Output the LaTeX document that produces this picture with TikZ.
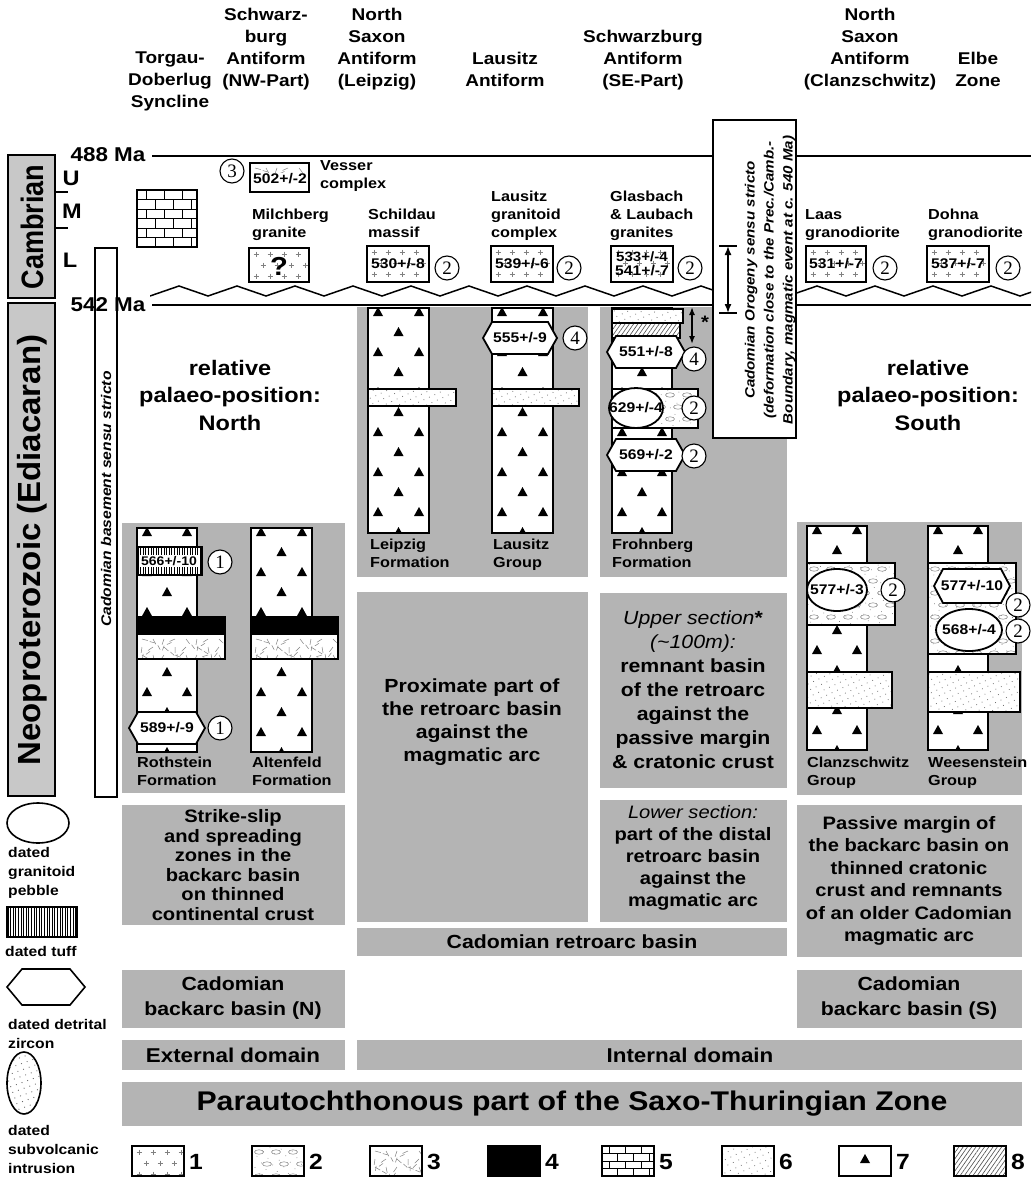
\documentclass[tikz,border=0pt]{standalone}
\usepackage{graphicx}
\usepackage{fontspec}
\setmainfont{Liberation Sans}[FakeStretch=1.12]
\newfontfamily\numfont{Liberation Serif}
\usetikzlibrary{patterns,patterns.meta,arrows.meta}
\definecolor{boxgray}{RGB}{180,180,180}
\definecolor{pgray}{RGB}{200,200,200}
\newcommand{\fsz}[2]{\fontsize{#1}{#2}\selectfont}
\tikzset{
  colline/.style={line width=2.2pt},
  graybg/.style={fill=boxgray, draw=none},
  hdr/.style={font=\bfseries\fsz{17}{22}, align=center, anchor=north, inner sep=0pt},
  lab/.style={font=\bfseries\fsz{14.5}{18}, align=left, anchor=north west, inner sep=0pt},
  datef/.style={font=\bfseries\fsz{14}{14}, inner sep=0pt, align=center},
  numc/.style={circle, draw, line width=1.1pt, fill=white, minimum size=24pt, inner sep=0pt, font=\numfont\fsz{19}{19}},
  shp/.style={line width=1.8pt, fill=white},
  patgray/.style={black!50, line width=0.5pt},
  legtxt/.style={font=\bfseries\fsz{14}{19}, align=left, anchor=north west, inner sep=0pt},
  legnum/.style={font=\bfseries\fsz{22}{22}, inner sep=0pt},
  legbox/.style={line width=1.6pt},
  boxtxt/.style={font=\bfseries\fsz{19}{23}, align=center, inner sep=0pt},
}
\newcommand{\tri}[2]{\fill ({#1-5},{#2+4}) -- ({#1+5},{#2+4}) -- ({#1},{#2-5}) -- cycle;}
\newcommand{\tricol}[4]{%
  \fill[white] (#1,#2) rectangle (#3,#4);
  \begin{scope}
    \clip (#1,#2) rectangle (#3,#4);
    \foreach \k in {0,...,12}{%
      \pgfmathsetmacro{\yy}{#2+4+\k*20}%
      \pgfmathtruncatemacro{\myodd}{mod(\k,2)}%
      \ifnum\myodd=0 \tri{#1+10}{\yy}\tri{#3-10}{\yy}\else\tri{(#1+#3)/2}{\yy}\fi
    }
  \end{scope}
  \draw[colline] (#1,#2) rectangle (#3,#4);}
\newcommand{\sandbed}[4]{%
  \fill[white] (#1,#2) rectangle (#3,#4);
  \fill[pattern={Dots[distance=6pt,radius=0.55pt,angle=25]}, pattern color=black!55] (#1,#2) rectangle (#3,#4);
  \draw[colline] (#1,#2) rectangle (#3,#4);}
\newcommand{\pebblefill}[4]{%
  \begin{scope}
    \clip (#1,#2) rectangle (#3,#4);
    \fill[pattern={Dots[distance=8pt,radius=0.5pt,angle=35]}, pattern color=black!50] (#1,#2) rectangle (#3,#4);
    \foreach \i in {0,...,6}{\foreach \j in {0,...,7}{%
      \draw[patgray] ({#1+7+\i*17+mod(\j,2)*8},{#2+6+\j*12}) ellipse (4.5 and 2.2);}}
  \end{scope}}
\newcommand{\pebblebed}[4]{%
  \fill[white] (#1,#2) rectangle (#3,#4);
  \pebblefill{#1}{#2}{#3}{#4}
  \draw[colline] (#1,#2) rectangle (#3,#4);}
\newcommand{\hatchbed}[4]{%
  \fill[white] (#1,#2) rectangle (#3,#4);
  \fill[pattern={Lines[angle=55,distance=3.5pt,line width=0.6pt]}, pattern color=black!70] (#1,#2) rectangle (#3,#4);
  \draw[colline] (#1,#2) rectangle (#3,#4);}
\newcommand{\tuffbed}[4]{%
  \fill[white] (#1,#2) rectangle (#3,#4);
  \fill[pattern={Lines[angle=90,distance=2.6pt,line width=0.6pt]}] (#1,#2) rectangle (#3,#4);
  \draw[line width=1.8pt] (#1,#2) rectangle (#3,#4);}
\newcommand{\blackbed}[4]{%
  \fill[black] (#1,#2) rectangle (#3,#4);
  \draw[colline] (#1,#2) rectangle (#3,#4);}
\newcommand{\volcfill}[4]{%
  \begin{scope}
    \clip (#1,#2) rectangle (#3,#4);
    \foreach \i in {0,...,8}{\foreach \j in {0,...,3}{%
      \pgfmathsetmacro{\ang}{mod(\i*47+\j*83,150)+15}%
      \draw[patgray] ({#1+5+\i*11},{#2+5+\j*8}) -- ++(\ang:6) ++(2,1) -- ++(\ang:5);}}
  \end{scope}}
\newcommand{\volcbed}[4]{%
  \fill[white] (#1,#2) rectangle (#3,#4);
  \volcfill{#1}{#2}{#3}{#4}
  \draw[colline] (#1,#2) rectangle (#3,#4);}
\newcommand{\granfill}[4]{%
  \begin{scope}
    \clip (#1,#2) rectangle (#3,#4);
    \foreach \i in {0,...,7}{\foreach \j in {0,...,4}{%
      \draw[patgray] ({#1+7+\i*14+mod(\j,2)*7-2.5},{#2+6+\j*11}) -- ++(5,0) ({#1+7+\i*14+mod(\j,2)*7},{#2+3.5+\j*11}) -- ++(0,5);}}
  \end{scope}}
\newcommand{\bricks}[5]{%
  \fill[white] (#1,#2) rectangle (#3,#4);
  \begin{scope}
    \clip (#1,#2) rectangle (#3,#4);
    \pgfmathsetmacro{\bh}{(#4-#2)/#5}
    \pgfmathsetmacro{\bw}{(#3-#1)/3.3}
    \foreach \r in {1,...,#5}{%
      \pgfmathsetmacro{\ya}{#2+(\r-1)*\bh}%
      \draw[line width=1pt] (#1,\ya) -- (#3,\ya);
      \foreach \m in {0,...,4}{%
        \pgfmathsetmacro{\xa}{#1+(\m+0.5*mod(\r,2))*\bw}%
        \draw[line width=1pt] (\xa,\ya) -- (\xa,{\ya+\bh});}}
  \end{scope}
  \draw[line width=1.6pt] (#1,#2) rectangle (#3,#4);}
\newcommand{\hexa}[6]{%
  \draw[shp] ({#2-#4},#3) -- ({#2-#4+9},{#3-#5}) -- ({#2+#4-9},{#3-#5}) -- ({#2+#4},#3) -- ({#2+#4-9},{#3+#5}) -- ({#2-#4+9},{#3+#5}) -- cycle;
  \node[datef] (#1) at (#2,#3) {#6};}
\newcommand{\dateell}[6]{%
  \draw[shp] (#2,#3) ellipse (#4 and #5);
  \node[datef] (#1) at (#2,#3) {#6};}
\newcommand{\granbox}[6]{%
  \fill[white] (#2,#3) rectangle (#4,#5);
  \granfill{#2}{#3}{#4}{#5}
  \draw[line width=2pt] (#2,#3) rectangle (#4,#5);
  \node[datef] (#1) at ({(#2+#4)/2},{(#3+#5)/2}) {#6};}

\begin{document}
\begin{tikzpicture}[x=1pt,y=-1pt]
\useasboundingbox (0,0) rectangle (1031,1180);
\fill[white] (0,0) rectangle (1031,1180);

% ---------- column headers
\node[hdr] (h1) at (170,52) {Torgau-\\Doberlug\\Syncline};
\node[hdr] (h2) at (266,8) {Schwarz-\\burg\\Antiform\\(NW-Part)};
\node[hdr] (h3) at (377,8) {North\\Saxon\\Antiform\\(Leipzig)};
\node[hdr] (h4) at (505,52) {Lausitz\\Antiform};
\node[hdr] (h5) at (643,30) {Schwarzburg\\Antiform\\(SE-Part)};
\node[hdr] (h6) at (870,8) {North\\Saxon\\Antiform\\(Clanzschwitz)};
\node[hdr] (h7) at (978,52) {Elbe\\Zone};

% ---------- period column
\draw[line width=1.5pt, fill=pgray] (8,155) rectangle (55,298);
\draw[line width=1.5pt, fill=pgray] (8,303) rectangle (55,796);
\node[rotate=90, font=\bfseries\fsz{31}{31}] (camb) at (32,227) {\scalebox{0.78}[1]{Cambrian}};
\node[rotate=90, font=\bfseries\fsz{32}{32}] (neo) at (32,550) {\scalebox{0.92}[1]{Neoproterozoic (Ediacaran)}};
\draw[line width=1.2pt] (55,192) -- (68,192) (55,228) -- (68,228);
\node[font=\bfseries\fsz{21}{21}] (lU) at (71,178) {U};
\node[font=\bfseries\fsz{21}{21}] (lM) at (72,211) {M};
\node[font=\bfseries\fsz{21}{21}] (lL) at (70,260) {L};
\node[font=\bfseries\fsz{20}{20}] (m488) at (108,155) {488 Ma};
\node[font=\bfseries\fsz{20}{20}] (m542) at (108,305) {542 Ma};
\draw[line width=1.8pt] (152,156) -- (1031,156);
\draw[line width=1.8pt] (152,305) -- (1031,305);
\begin{scope}
  \clip (150,280) rectangle (1031,300);
  \draw[line width=1.5pt] (150,296) \foreach \i in {0,...,15} { -- ({179+\i*58},286) -- ({208+\i*58},296) };
\end{scope}

% Cadomian basement column
\draw[line width=1.5pt] (95,248) rectangle (117,797);
\node[rotate=90, font=\bfseries\itshape\fsz{14}{14}] (cbs) at (106,499) {Cadomian basement sensu stricto};

% ---------- gray backgrounds
\fill[boxgray] (122,523) rectangle (345,793);
\fill[boxgray] (357,307) rectangle (588,577);
\fill[boxgray] (600,307) rectangle (787,577);
\fill[boxgray] (797,522) rectangle (1022,795);

% ---------- Cambrian items
\bricks{137}{190}{197}{247}{6}
\node[numc] (n3) at (232,171) {3};
\fill[white] (250,163) rectangle (309,192);
\volcfill{250}{163}{309}{172}
\draw[line width=2pt] (250,163) rectangle (309,192);
\node[datef] (d502) at (280,179) {502+/-2};
\node[lab] (lves) at (320,160) {Vesser\\complex};
\node[lab] (lmil) at (252,209) {Milchberg\\granite};
\granbox{dmil}{249}{248}{309}{282}{}
\node[font=\bfseries\fsz{26}{26}] (qmark) at (279,266) {?};
\node[lab] (lsch) at (368,209) {Schildau\\massif};
\granbox{d530}{367}{246}{429}{282}{530+/-8}
\node[numc] (n530) at (447,268) {2};
\node[lab] (llgc) at (491,191) {Lausitz\\granitoid\\complex};
\granbox{d539}{491}{246}{553}{282}{539+/-6}
\node[numc] (n539) at (569,268) {2};
\node[lab] (lgla) at (610,191) {Glasbach\\\& Laubach\\granites};
\granbox{d533}{611}{246}{673}{282}{\fsz{13.5}{13.5}533+/-4\\541+/-7}
\node[numc] (n533) at (690,268) {2};
\node[lab] (llaa) at (805,209) {Laas\\granodiorite};
\granbox{d531}{806}{246}{866}{282}{531+/-7}
\node[numc] (n531) at (885,268) {2};
\node[lab] (ldoh) at (928,209) {Dohna\\granodiorite};
\granbox{d537}{927}{246}{989}{282}{537+/-7}
\node[numc] (n537) at (1008,268) {2};

% ---------- Cadomian orogeny box
\draw[line width=2pt, fill=white] (713,120) rectangle (796,438);
\node[rotate=90, font=\bfseries\itshape\fsz{13.5}{19}, align=center] (cos) at (770,280) {Cadomian Orogeny sensu stricto\\(deformation close to the Prec./Camb.-\\Boundary, magmatic event at c. 540 Ma)};
\coordinate (oa) at (728,246);
\coordinate (ob) at (728,313);
\draw[line width=1.5pt] (719,246) -- (737,246) (719,313) -- (737,313);
\draw[line width=1.5pt, {Latex[length=9pt,width=7pt]}-{Latex[length=9pt,width=7pt]}] (oa) -- (ob);

% ---------- palaeo-position labels
\node[font=\bfseries\fsz{21}{27.5}, align=center] (north) at (230,395) {relative\\palaeo-position:\\North};
\node[font=\bfseries\fsz{21}{27.5}, align=center] (south) at (928,395) {relative\\palaeo-position:\\South};

% ---------- Leipzig / Lausitz
\tricol{368}{308}{429}{533}
\sandbed{368}{389}{456}{406}
\tricol{492}{308}{553}{533}
\sandbed{492}{389}{579}{406}
\hexa{d555}{520}{338}{37}{16}{555+/-9}
\node[numc] (n555) at (575,338) {4};
\node[lab] (fleip) at (370,539) {Leipzig\\Formation};
\node[lab] (flaus) at (493,539) {Lausitz\\Group};

% ---------- Frohnberg
\tricol{612}{308}{672}{533}
\sandbed{612}{309}{683}{323}
\hatchbed{612}{323}{680}{338}
\pebblebed{612}{389}{698}{428}
\hexa{d551}{646}{352}{39}{16}{551+/-8}
\dateell{d629}{636}{408}{27}{20}{629+/-4}
\hexa{d569}{646}{455}{39}{16}{569+/-2}
\node[numc] (n551) at (694,359) {4};
\node[numc] (n629) at (694,408) {2};
\node[numc] (n569) at (694,456) {2};
\coordinate (fa) at (692,307);
\coordinate (fb) at (692,344);
\draw[line width=1.5pt, {Latex[length=8pt,width=6pt]}-{Latex[length=8pt,width=6pt]}] (fa) -- (fb);
\node[font=\bfseries\fsz{18}{18}] (ast) at (705,322) {*};
\node[lab] (ffroh) at (612,539) {Frohnberg\\Formation};

% ---------- Rothstein / Altenfeld
\tricol{137}{528}{197}{752}
\tuffbed{137}{547}{202}{575}
\node[datef, font=\bfseries\fsz{12.5}{12.5}, fill=white, inner sep=1.5pt] (d566) at (169,561) {566+/-10};
\node[numc] (n566) at (220,562) {1};
\blackbed{137}{617}{225}{634}
\volcbed{137}{634}{225}{659}
\hexa{d589}{167}{728}{38}{16}{589+/-9}
\node[numc] (n589) at (220,728) {1};
\tricol{251}{528}{312}{752}
\blackbed{251}{617}{338}{634}
\volcbed{251}{634}{338}{659}
\node[lab] (froth) at (137,757) {Rothstein\\Formation};
\node[lab] (falt) at (252,757) {Altenfeld\\Formation};

% ---------- Clanzschwitz / Weesenstein
\tricol{807}{526}{867}{750}
\pebblebed{807}{563}{895}{625}
\sandbed{807}{672}{892}{708}
\dateell{d577a}{837}{590}{30}{21}{577+/-3}
\node[numc] (n577a) at (893,590) {2};
\tricol{928}{526}{988}{750}
\pebblebed{928}{563}{1016}{654}
\sandbed{928}{672}{1020}{712}
\hexa{d577b}{972}{586}{38}{17}{577+/-10}
\dateell{d568}{969}{630}{33}{21}{568+/-4}
\node[numc] (n577b) at (1018,605) {2};
\node[numc] (n568) at (1018,631) {2};
\node[lab] (fclan) at (807,757) {Clanzschwitz\\Group};
\node[lab] (fwees) at (928,757) {Weesenstein\\Group};

% ---------- interpretation boxes
\fill[boxgray] (122,805) rectangle (345,925);
\node[boxtxt, font=\bfseries\fsz{18}{19.5}] (tstrike) at (233,865) {Strike-slip\\and spreading\\zones in the\\backarc basin\\on thinned\\continental crust};
\fill[boxgray] (357,592) rectangle (588,922);
\node[boxtxt] (tprox) at (472,722) {Proximate part of\\the retroarc basin\\against the\\magmatic arc};
\fill[boxgray] (600,593) rectangle (787,788);
\node[boxtxt, font=\bfseries\fsz{19}{24}] (tupper) at (693,690) {{\mdseries\itshape Upper section}*\\{\mdseries\itshape (\textasciitilde100m):}\\remnant basin\\of the retroarc\\against the\\passive margin\\\& cratonic crust};
\fill[boxgray] (600,800) rectangle (787,922);
\node[boxtxt, font=\bfseries\fsz{18}{22}] (tlower) at (693,858) {{\mdseries\itshape Lower section:}\\part of the distal\\retroarc basin\\against the\\magmatic arc};
\fill[boxgray] (797,805) rectangle (1022,957);
\node[boxtxt, font=\bfseries\fsz{18}{22.5}] (tpass) at (909,881) {Passive margin of\\the backarc basin on\\thinned cratonic\\crust and remnants\\of an older Cadomian\\magmatic arc};
\fill[boxgray] (357,928) rectangle (787,956);
\node[boxtxt] (tretro) at (572,942) {Cadomian retroarc basin};
\fill[boxgray] (122,970) rectangle (345,1028);
\node[boxtxt, font=\bfseries\fsz{19}{25}] (tbackn) at (233,998) {Cadomian\\backarc basin (N)};
\fill[boxgray] (797,970) rectangle (1022,1028);
\node[boxtxt, font=\bfseries\fsz{19}{25}] (tbacks) at (909,998) {Cadomian\\backarc basin (S)};
\fill[boxgray] (122,1040) rectangle (345,1070);
\node[boxtxt, font=\bfseries\fsz{20}{20}] (text) at (233,1055) {External domain};
\fill[boxgray] (357,1040) rectangle (1022,1070);
\node[boxtxt, font=\bfseries\fsz{20}{20}] (tint) at (690,1055) {Internal domain};
\fill[boxgray] (122,1082) rectangle (1022,1126);
\node[boxtxt, font=\bfseries\fsz{27}{27}] (tpara) at (572,1104) {Parautochthonous part of the Saxo-Thuringian Zone};

% ---------- left legend
\draw[line width=1.6pt] (38,823) ellipse (31 and 20);
\node[legtxt] (lg1) at (8,847) {dated\\granitoid\\pebble};
\fill[white] (7,907) rectangle (77,937);
\fill[pattern={Lines[angle=90,distance=2.6pt,line width=0.6pt]}] (7,907) rectangle (77,937);
\draw[legbox] (7,907) rectangle (77,937);
\node[legtxt] (lg2) at (5,946) {dated tuff};
\draw[line width=1.6pt] (7,987) -- (22,969) -- (70,969) -- (85,987) -- (70,1005) -- (22,1005) -- cycle;
\node[legtxt] (lg3) at (8,1019) {dated detrital\\zircon};
\draw[line width=1.6pt, pattern={Dots[distance=6pt,radius=0.6pt,angle=20]}, pattern color=black!60] (24,1083) ellipse (17 and 31);
\node[legtxt] (lg4) at (8,1125) {dated\\subvolcanic\\intrusion};

% ---------- bottom legend
\fill[white] (132,1146) rectangle (184,1176);
\granfill{132}{1146}{184}{1176}
\draw[legbox] (132,1146) rectangle (184,1176);
\node[legnum] (k1) at (196,1162) {1};
\fill[white] (252,1146) rectangle (304,1176);
\pebblefill{252}{1146}{304}{1176}
\draw[legbox] (252,1146) rectangle (304,1176);
\node[legnum] (k2) at (316,1162) {2};
\fill[white] (370,1146) rectangle (422,1176);
\volcfill{370}{1146}{422}{1176}
\draw[legbox] (370,1146) rectangle (422,1176);
\node[legnum] (k3) at (434,1162) {3};
\fill[black] (488,1146) rectangle (540,1176);
\draw[legbox] (488,1146) rectangle (540,1176);
\node[legnum] (k4) at (552,1162) {4};
\bricks{602}{1146}{654}{1176}{4}
\node[legnum] (k5) at (666,1162) {5};
\fill[white] (722,1146) rectangle (774,1176);
\fill[pattern={Dots[distance=6pt,radius=0.55pt,angle=25]}, pattern color=black!55] (722,1146) rectangle (774,1176);
\draw[legbox] (722,1146) rectangle (774,1176);
\node[legnum] (k6) at (786,1162) {6};
\draw[legbox] (839,1146) rectangle (891,1176);
\tri{865}{1159}
\node[legnum] (k7) at (903,1162) {7};
\fill[pattern={Lines[angle=55,distance=3.5pt,line width=0.6pt]}, pattern color=black!70] (954,1146) rectangle (1006,1176);
\draw[legbox] (954,1146) rectangle (1006,1176);
\node[legnum] (k8) at (1018,1162) {8};
\end{tikzpicture}
\end{document}
